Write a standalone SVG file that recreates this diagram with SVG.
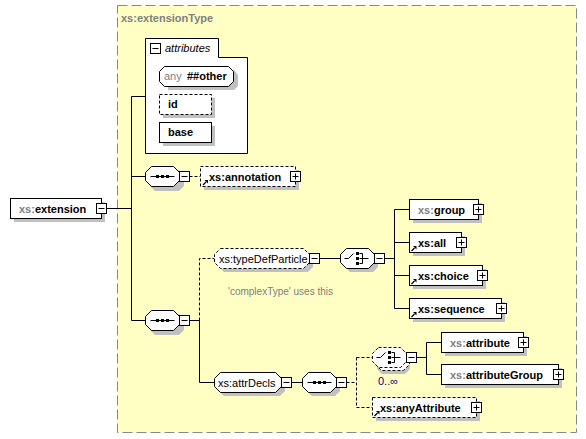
<svg xmlns="http://www.w3.org/2000/svg" xmlns:xlink="http://www.w3.org/1999/xlink" width="586" height="439" viewBox="0 0 586 439">
<style>
text{font-family:"Liberation Sans",Arial,sans-serif;font-size:11px;fill:#000}
.b{font-weight:bold}
.g{fill:#808080}
.box{fill:#fff;stroke:#000;stroke-width:1}
.dsh{stroke-dasharray:3,2}
.sh{fill:#c0c0c0;stroke:none}
.ln{fill:none;stroke:#000;stroke-width:1}
</style>
<defs>
<g id="minus"><rect x="0" y="0" width="10" height="10" fill="#fff" stroke="#000"/><path d="M2,5H8" stroke="#000"/></g>
<g id="plus"><rect x="0" y="0" width="10" height="10" fill="#fff" stroke="#000"/><path d="M2,5H8M5,2V8" stroke="#000"/></g>
<g id="ref"><path d="M0,0L3,-3" stroke="#000" stroke-width="1.3"/><polygon points="5,-5 1.5,-5 5,-1.5" fill="#000"/></g>
<g id="seqicon"><path d="M-12,0H12" stroke="#000"/><rect x="-6.5" y="-1.5" width="3" height="3" fill="#000"/><rect x="-1.5" y="-1.5" width="3" height="3" fill="#000"/><rect x="3.5" y="-1.5" width="3" height="3" fill="#000"/></g>
<g id="choiceicon"><path d="M-13,0H-9L-4,-5M2,-5H5V5H2M2,0H11" fill="none" stroke="#000"/><rect x="-1.5" y="-6.5" width="3" height="3" fill="#000"/><rect x="-1.5" y="-1.5" width="3" height="3" fill="#000"/><rect x="-1.5" y="3.5" width="3" height="3" fill="#000"/></g>
</defs>
<rect x="0" y="0" width="586" height="439" fill="#fff"/>
<g id="extensionType">
<rect x="117.5" y="5.5" width="459" height="427" fill="#ffffc4" stroke="#888" stroke-dasharray="10,4"/>
<text x="121" y="22" class="b g">xs:extensionType</text>
</g>
<g id="connectors">
<path class="ln" d="M106,208.5H131.5M131.5,96.5V320.5M131.5,96.5H145.5M131.5,176.5H145.5M131.5,320.5H145.5"/>
<path class="ln dsh" d="M189.5,176.5H200.5"/>
<path class="ln" d="M189.5,320.5H199.5V382.5H214.5"/>
<path class="ln dsh" d="M199.5,320.5V258.5H214.5"/>
<path class="ln" d="M319.5,258.5H340.5M384.5,258.5H394.5M394.5,209.5V308.5M394.5,209.5H409.5M394.5,242.5H409.5M394.5,275.5H409.5M394.5,308.5H409.5"/>
<path class="ln" d="M291.5,382.5H302.5"/>
<path class="ln dsh" d="M346.5,382.5H356.5M356.5,357.5V407.5M356.5,357.5H372.5M356.5,407.5H372.5"/>
<path class="ln" d="M416.5,357.5H426.5M426.5,342.5V374.5M426.5,342.5H441.5M426.5,374.5H441.5"/>
</g>
<g id="attributes">
<path d="M145.5,153.5V38.5H218.5V57.5H247.5V153.5Z" fill="#fff" stroke="#000"/>
<use xlink:href="#minus" x="150.5" y="43.5"/>
<text x="165" y="52" font-style="italic">attributes</text>
</g>
<g id="anyOther">
<path class="sh" d="M168,70H234L238,75V86L234,90H168Z"/>
<path class="box" d="M164.5,66.5H228.5L233.5,71.5V81.5L228.5,86.5H164.5L159.5,81.5V71.5Z"/>
<text x="164" y="80" class="g">any</text><text x="187" y="80" class="b">##other</text>
</g>
<g id="attr-id">
<rect class="sh" x="163" y="98" width="52" height="20"/>
<rect class="box dsh" x="159.5" y="94.5" width="52" height="20"/>
<text x="168" y="108" class="b">id</text>
</g>
<g id="attr-base">
<rect class="sh" x="163" y="126" width="52" height="20"/>
<rect class="box" x="159.5" y="122.5" width="52" height="20"/>
<text x="168" y="136" class="b">base</text>
</g>
<g id="extension">
<rect class="sh" x="14" y="202" width="91" height="20"/>
<rect class="box" x="10.5" y="198.5" width="91" height="20"/>
<text x="19" y="212.5" class="b"><tspan class="g">xs:</tspan>extension</text>
<use xlink:href="#minus" x="96.5" y="203.5"/>
</g>
<g id="seq-annotation">
<path class="sh" d="M155,170H179L184,175V186L179,191H155L150,186V175Z"/>
<path class="box" d="M151.5,166.5H173.5L179.5,172.5V180.5L173.5,186.5H151.5L145.5,180.5V172.5Z"/>
<use xlink:href="#seqicon" x="162.5" y="176.5"/>
<use xlink:href="#minus" x="179.5" y="171.5"/>
</g>
<g id="annotation">
<rect class="sh" x="204" y="170" width="95" height="20"/>
<rect class="box dsh" x="200.5" y="166.5" width="95" height="20"/>
<use xlink:href="#ref" x="203" y="185"/>
<text x="209" y="180.5" class="b">xs:annotation</text>
<use xlink:href="#plus" x="290.5" y="171.5"/>
</g>
<g id="seq-main">
<path class="sh" d="M155,314H179L184,319V330L179,335H155L150,330V319Z"/>
<path class="box" d="M151.5,310.5H173.5L179.5,316.5V324.5L173.5,330.5H151.5L145.5,324.5V316.5Z"/>
<use xlink:href="#seqicon" x="162.5" y="320.5"/>
<use xlink:href="#minus" x="179.5" y="315.5"/>
</g>
<g id="typeDefParticle">
<path class="sh" d="M224,252H308L313,257V267L308,272H224L219,267V257Z"/>
<path class="box dsh" d="M220.5,248.5H303.5L309.5,254.5V262.5L303.5,268.5H220.5L214.5,262.5V254.5Z"/>
<text x="219" y="262.5">xs:typeDefParticle</text>
<use xlink:href="#minus" x="309.5" y="253.5"/>
<text x="228" y="294.5" class="g" style="font-size:10px">'complexType' uses this</text>
</g>
<g id="choice-particle">
<path class="sh" d="M350,252H373L378,257V267L373,272H350L345,267V257Z"/>
<path class="box" d="M346.5,248.5H368.5L374.5,254.5V262.5L368.5,268.5H346.5L340.5,262.5V254.5Z"/>
<use xlink:href="#choiceicon" x="357.5" y="258.5"/>
<use xlink:href="#minus" x="374.5" y="253.5"/>
</g>
<g id="group">
<rect class="sh" x="413" y="203" width="69" height="20"/>
<rect class="box" x="409.5" y="199.5" width="69" height="20"/>
<text x="418" y="213.5" class="b"><tspan class="g">xs:</tspan>group</text>
<use xlink:href="#plus" x="473.5" y="204.5"/>
</g>
<g id="all">
<rect class="sh" x="413" y="236" width="52" height="20"/>
<rect class="box" x="409.5" y="232.5" width="52" height="20"/>
<use xlink:href="#ref" x="411.5" y="251"/>
<text x="418" y="246.5" class="b">xs:all</text>
<use xlink:href="#plus" x="456.5" y="237.5"/>
</g>
<g id="choice">
<rect class="sh" x="413" y="269" width="73" height="20"/>
<rect class="box" x="409.5" y="265.5" width="73" height="20"/>
<use xlink:href="#ref" x="411.5" y="284"/>
<text x="418" y="279.5" class="b">xs:choice</text>
<use xlink:href="#plus" x="477.5" y="270.5"/>
</g>
<g id="sequence">
<rect class="sh" x="413" y="302" width="92" height="20"/>
<rect class="box" x="409.5" y="298.5" width="92" height="20"/>
<use xlink:href="#ref" x="411.5" y="317"/>
<text x="418" y="312.5" class="b">xs:sequence</text>
<use xlink:href="#plus" x="496.5" y="303.5"/>
</g>
<g id="attrDecls">
<path class="sh" d="M224,376H280L285,381V391L280,396H224L219,391V381Z"/>
<path class="box" d="M220.5,372.5H275.5L281.5,378.5V386.5L275.5,392.5H220.5L214.5,386.5V378.5Z"/>
<text x="218" y="386.5">xs:attrDecls</text>
<use xlink:href="#minus" x="281.5" y="377.5"/>
</g>
<g id="seq-attr">
<path class="sh" d="M312,376H335L340,381V391L335,396H312L307,391V381Z"/>
<path class="box" d="M308.5,372.5H330.5L336.5,378.5V386.5L330.5,392.5H308.5L302.5,386.5V378.5Z"/>
<use xlink:href="#seqicon" x="319.5" y="382.5"/>
<use xlink:href="#minus" x="336.5" y="377.5"/>
</g>
<g id="choice-attr">
<path class="sh" d="M382,354H405L410,359V369L405,374H382L377,369V359Z"/>
<path class="box dsh" d="M381.5,350.5H403.5L409.5,356.5V364.5L403.5,370.5H381.5L375.5,364.5V356.5Z"/>
<path class="box dsh" d="M378.5,347.5H400.5L406.5,353.5V361.5L400.5,367.5H378.5L372.5,361.5V353.5Z"/>
<use xlink:href="#choiceicon" x="389.5" y="357.5"/>
<use xlink:href="#minus" x="406.5" y="352.5"/>
<text x="378" y="385" style="fill:#000080">0..∞</text>
</g>
<g id="attribute">
<rect class="sh" x="445" y="336" width="82" height="20"/>
<rect class="box" x="441.5" y="332.5" width="82" height="20"/>
<text x="450" y="346.5" class="b"><tspan class="g">xs:</tspan>attribute</text>
<use xlink:href="#plus" x="518.5" y="337.5"/>
</g>
<g id="attributeGroup">
<rect class="sh" x="445" y="368" width="117" height="20"/>
<rect class="box" x="441.5" y="364.5" width="117" height="20"/>
<text x="450" y="378.5" class="b"><tspan class="g">xs:</tspan>attributeGroup</text>
<use xlink:href="#plus" x="553.5" y="369.5"/>
</g>
<g id="anyAttribute">
<rect class="sh" x="376" y="401" width="104" height="20"/>
<rect class="box dsh" x="372.5" y="397.5" width="104" height="20"/>
<use xlink:href="#ref" x="374.5" y="416"/>
<text x="380" y="411.5" class="b">xs:anyAttribute</text>
<use xlink:href="#plus" x="471.5" y="402.5"/>
</g>
</svg>
